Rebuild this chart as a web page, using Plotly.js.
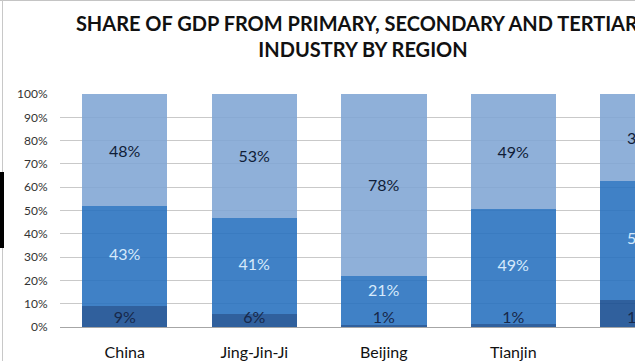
<!DOCTYPE html>
<html>
<head>
<meta charset="utf-8">
<script src="https://cdn.plot.ly/plotly-3.0.1.min.js"></script>
<style>
  html, body { margin: 0; padding: 0; background: #fff; overflow: hidden; }
  #wrap { position: relative; width: 635px; height: 361px; }
  #chart { position: absolute; left: 0; top: 0; width: 635px; height: 361px; }
  #frameTop { position: absolute; left: 0; top: 0; width: 635px; height: 1px; background: #c4c4c4; }
  #frameLeft { position: absolute; left: 2px; top: 0; width: 1px; height: 361px; background: #c8c8c8; }
  #mark { position: absolute; left: 0; top: 172px; width: 4px; height: 76px; background: #000; }
</style>
</head>
<body>
<div id="wrap">
  <div id="chart"></div>
  <div id="frameTop"></div>
  <div id="frameLeft"></div>
  <div id="mark"></div>
</div>
<script>
const regions   = ["China", "Jing-Jin-Ji", "Beijing", "Tianjin", "Hebei"];
const primary   = [9.2, 5.7, 0.7, 1.3, 11.7];
const secondary = [42.7, 41.1, 21.4, 49.2, 51.1];
const tertiary  = [48.1, 53.2, 77.9, 49.4, 37.2];
const yTickVals = [0, 10, 20, 30, 40, 50, 60, 70, 80, 90, 100];

const fontFam = "Lato, 'Open Sans', sans-serif";

function labels(arr) { return arr.map(v => Math.round(v) + "%"); }

const common = {
  type: "bar",
  x: regions,
  constraintext: "none",
  insidetextanchor: "middle",
  hoverinfo: "skip"
};

const traces = [
  Object.assign({}, common, {
    name: "Primary",
    y: primary,
    textposition: "none",
    marker: { color: "rgba(19,74,143,0.88)", line: { width: 0 } }
  }),
  Object.assign({}, common, {
    name: "Secondary",
    y: secondary,
    textposition: "none",
    marker: { color: "rgba(37,111,190,0.88)", line: { width: 0 } }
  }),
  Object.assign({}, common, {
    name: "Tertiary",
    y: tertiary,
    text: labels(tertiary),
    textposition: "inside",
    marker: { color: "rgba(128,165,212,0.88)", line: { width: 0 } },
    textfont: { family: fontFam, size: 16, color: "#0f1d38" }
  }),
  // secondary-sector labels at the middle of their segment (lifted when the segment is short)
  {
    type: "scatter",
    mode: "text",
    x: regions,
    y: regions.map((r, i) => primary[i] + secondary[i] / 2),
    text: labels(secondary),
    textposition: secondary.map(v => v < 30 ? "top center" : "middle center"),
    cliponaxis: true,
    hoverinfo: "skip",
    textfont: { family: fontFam, size: 16, color: "#d6eafc" }
  },
  // primary-sector labels, drawn above the bars just over the base line
  {
    type: "scatter",
    mode: "text",
    x: regions,
    y: regions.map(() => 0),
    text: labels(primary),
    textposition: "top center",
    cliponaxis: true,
    hoverinfo: "skip",
    textfont: { family: fontFam, size: 16, color: "#17284a" }
  }
];

const layout = {
  width: 635,
  height: 361,
  barmode: "stack",
  bargap: 0.34,
  showlegend: false,
  paper_bgcolor: "#ffffff",
  plot_bgcolor: "#ffffff",
  margin: { l: 60, r: 0, t: 94, b: 34, pad: 0 },
  title: {
    text: "SHARE OF GDP FROM PRIMARY, SECONDARY AND TERTIARY<br>INDUSTRY BY REGION",
    font: { family: fontFam, size: 20, color: "#111111", weight: "bold" },
    x: 363 / 635,
    xanchor: "center",
    xref: "container",
    y: 1 - 31 / 361,
    yanchor: "top",
    yref: "container"
  },
  xaxis: {
    type: "category",
    range: [-0.5, 3.94],
    showgrid: false,
    zeroline: false,
    showline: false,
    ticks: "outside",
    ticklen: 11,
    tickcolor: "rgba(0,0,0,0)",
    tickfont: { family: fontFam, size: 16, color: "#111111" },
    fixedrange: true
  },
  yaxis: {
    range: [0, 100],
    tickvals: yTickVals,
    ticktext: yTickVals.map(v => v + "%"),
    showgrid: true,
    gridcolor: "#c9c9c9",
    gridwidth: 1,
    zeroline: true,
    zerolinecolor: "#a6a6a6",
    zerolinewidth: 1,
    showline: false,
    ticks: "outside",
    ticklen: 9,
    tickcolor: "rgba(0,0,0,0)",
    tickfont: { family: fontFam, size: 12, color: "#333333" },
    fixedrange: true
  }
};

Plotly.newPlot("chart", traces, layout, { displayModeBar: false, staticPlot: true });
</script>
</body>
</html>
